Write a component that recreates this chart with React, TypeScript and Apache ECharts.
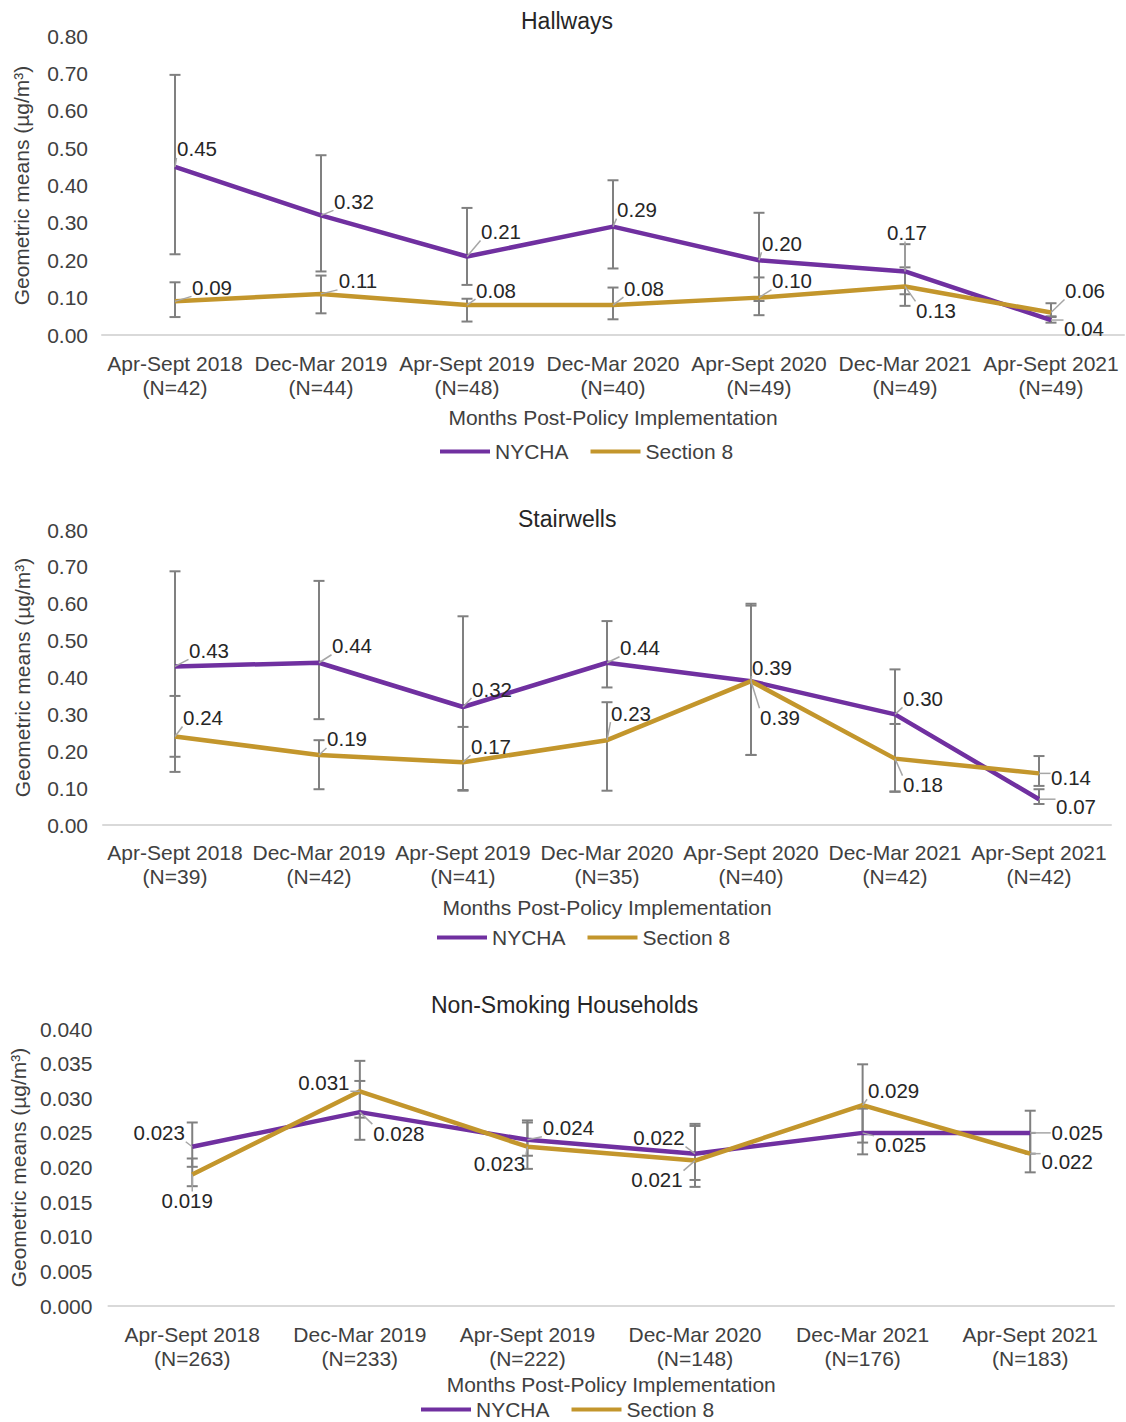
import React, { useEffect, useRef } from 'react';
import * as echarts from 'echarts';

// ---------- Data ----------
const seriesNames = ['NYCHA', 'Section 8'];

const hallCats = ['Apr-Sept 2018\n(N=42)', 'Dec-Mar 2019\n(N=44)', 'Apr-Sept 2019\n(N=48)', 'Dec-Mar 2020\n(N=40)', 'Apr-Sept 2020\n(N=49)', 'Dec-Mar 2021\n(N=49)', 'Apr-Sept 2021\n(N=49)'];
const hallNycha = [0.45, 0.32, 0.21, 0.29, 0.20, 0.17, 0.04];
const hallSec8 = [0.09, 0.11, 0.08, 0.08, 0.10, 0.13, 0.06];
const hallNychaLow = [0.216, 0.17, 0.134, 0.178, 0.091, 0.109, 0.033];
const hallNychaHigh = [0.696, 0.481, 0.34, 0.414, 0.327, 0.243, 0.048];
const hallSec8Low = [0.048, 0.058, 0.036, 0.042, 0.053, 0.078, 0.05];
const hallSec8High = [0.141, 0.159, 0.097, 0.127, 0.154, 0.181, 0.085];

const stairCats = ['Apr-Sept 2018\n(N=39)', 'Dec-Mar 2019\n(N=42)', 'Apr-Sept 2019\n(N=41)', 'Dec-Mar 2020\n(N=35)', 'Apr-Sept 2020\n(N=40)', 'Dec-Mar 2021\n(N=42)', 'Apr-Sept 2021\n(N=42)'];
const stairNycha = [0.43, 0.44, 0.32, 0.44, 0.39, 0.30, 0.07];
const stairSec8 = [0.24, 0.19, 0.17, 0.23, 0.39, 0.18, 0.14];
const stairNychaLow = [0.185, 0.287, 0.093, 0.373, 0.19, 0.09, 0.057];
const stairNychaHigh = [0.688, 0.662, 0.566, 0.553, 0.60, 0.422, 0.097];
const stairSec8Low = [0.144, 0.097, 0.095, 0.093, 0.19, 0.091, 0.106];
const stairSec8High = [0.35, 0.23, 0.266, 0.333, 0.595, 0.274, 0.187];

const nsCats = ['Apr-Sept 2018\n(N=263)', 'Dec-Mar 2019\n(N=233)', 'Apr-Sept 2019\n(N=222)', 'Dec-Mar 2020\n(N=148)', 'Dec-Mar 2021\n(N=176)', 'Apr-Sept 2021\n(N=183)'];
const nsNycha = [0.023, 0.028, 0.024, 0.022, 0.025, 0.025];
const nsSec8 = [0.019, 0.031, 0.023, 0.021, 0.029, 0.022];
const nsNychaLow = [0.0201, 0.024, 0.0217, 0.0182, 0.0219, 0.022];
const nsNychaHigh = [0.0265, 0.0325, 0.0268, 0.0263, 0.0285, 0.0282];
const nsSec8Low = [0.0173, 0.0272, 0.0198, 0.0172, 0.0236, 0.0193];
const nsSec8High = [0.0213, 0.0354, 0.0265, 0.026, 0.0349, 0.025];

// label offsets (label centre relative to the point), in px
const hallNychaOff = [[22, -18], [33, -14], [34, -25], [24, -17], [23, -17], [2, -39], [33, 8]];
const hallSec8Off = [[37, -14], [37, -13], [29, -15], [31, -17], [33, -17], [31, 24], [34, -22]];
const stairNychaOff = [[34, -16], [33, -17], [29, -18], [33, -15], [21, -14], [28, -16], [37, 7]];
const stairSec8Off = [[28, -19], [28, -16], [28, -16], [24, -27], [29, 36], [28, 26], [32, 4]];
const nsNychaOff = [[-33, -14], [39, 21], [41, -12], [-36, -16], [38, 12], [47, 0]];
const nsSec8Off = [[-5, 26], [-36, -9], [-28, 17], [-38, 19], [31, -15], [37, 8]];

// ---------- Styles ----------
const PURPLE = '#7030A0';
const GOLD = '#C3962C';
const FONT = '"Liberation Sans", Arial, sans-serif';
const TXT = '#404040';

const errRender = (params: any, api: any) => {
  const lo = api.coord([api.value(0), api.value(1)]);
  const hi = api.coord([api.value(0), api.value(2)]);
  const c = 5.5;
  const st = { stroke: '#808080', lineWidth: 2 };
  return {
    type: 'group',
    children: [
      { type: 'line', shape: { x1: lo[0], y1: lo[1], x2: hi[0], y2: hi[1] }, style: st },
      { type: 'line', shape: { x1: lo[0] - c, y1: lo[1], x2: lo[0] + c, y2: lo[1] }, style: st },
      { type: 'line', shape: { x1: hi[0] - c, y1: hi[1], x2: hi[0] + c, y2: hi[1] }, style: st },
    ],
  };
};

const labelRender = (offs: number[][], dec: number) => (params: any, api: any) => {
  const i = params.dataIndex;
  const v = api.value(1);
  const p = api.coord([api.value(0), v]);
  const [dx, dy] = offs[i];
  const tx = p[0] + dx;
  const ty = p[1] + dy;
  const w = dec === 2 ? 41 : 53;
  const h = 18;
  const ex = Math.max(tx - w / 2, Math.min(p[0], tx + w / 2));
  const ey = Math.max(ty - h / 2, Math.min(p[1], ty + h / 2));
  const children: any[] = [];
  if (Math.hypot(ex - p[0], ey - p[1]) > 4) {
    children.push({ type: 'line', shape: { x1: p[0], y1: p[1], x2: ex, y2: ey }, style: { stroke: '#A6A6A6', lineWidth: 1.5 } });
  }
  children.push({
    type: 'text',
    style: { text: Number(v).toFixed(dec), x: tx, y: ty, align: 'center', verticalAlign: 'middle', fontSize: 20.5, fill: '#262626', fontFamily: FONT },
  });
  return { type: 'group', children };
};

interface PanelCfg {
  title: string;
  titleLeft: number;
  titleTop: number;
  cats: string[];
  nycha: number[];
  sec8: number[];
  nLow: number[];
  nHigh: number[];
  sLow: number[];
  sHigh: number[];
  nOff: number[][];
  sOff: number[][];
  dec: number;
  max: number;
  interval: number;
  grid: { left: number; top: number; width: number; height: number };
  yLabelMargin: number;
  yNameGap: number;
  xLabelMargin: number;
  xNameGap: number;
  legendLeft: number;
  legendTop: number;
}

function buildPanel(idx: number, c: PanelCfg) {
  const title = {
    text: c.title, left: c.titleLeft, top: c.titleTop, padding: 0,
    textStyle: { fontSize: 23, fontWeight: 'normal', color: '#262626', fontFamily: FONT },
  };
  const grid = { ...c.grid };
  const xAxis = {
    type: 'category', gridIndex: idx, data: c.cats, boundaryGap: true,
    axisLine: { show: true, lineStyle: { color: '#D9D9D9', width: 2 } },
    axisTick: { show: false },
    axisLabel: { fontSize: 21, lineHeight: 24, color: TXT, margin: c.xLabelMargin, interval: 0, fontFamily: FONT },
    name: 'Months Post-Policy Implementation', nameLocation: 'middle', nameGap: c.xNameGap,
    nameTextStyle: { fontSize: 21, color: TXT, fontFamily: FONT },
    splitLine: { show: false },
  };
  const yAxis = {
    type: 'value', gridIndex: idx, min: 0, max: c.max, interval: c.interval,
    axisLine: { show: false }, axisTick: { show: false }, splitLine: { show: false },
    axisLabel: { fontSize: 21, color: TXT, margin: c.yLabelMargin, formatter: (v: number) => v.toFixed(c.dec), fontFamily: FONT },
    name: 'Geometric means (µg/m³)', nameLocation: 'middle', nameGap: c.yNameGap, nameRotate: 90,
    nameTextStyle: { fontSize: 21, color: TXT, fontFamily: FONT },
  };
  const errData = (lo: number[], hi: number[]) => c.cats.map((_, i) => [i, lo[i], hi[i]]);
  const ptData = (vals: number[]) => vals.map((v, i) => [i, v]);
  const series: any[] = [
    { type: 'custom', name: 'errN' + idx, xAxisIndex: idx, yAxisIndex: idx, renderItem: errRender, data: errData(c.nLow, c.nHigh), encode: { x: 0, y: [1, 2] }, z: 1, silent: true },
    { type: 'custom', name: 'errS' + idx, xAxisIndex: idx, yAxisIndex: idx, renderItem: errRender, data: errData(c.sLow, c.sHigh), encode: { x: 0, y: [1, 2] }, z: 1, silent: true },
    { type: 'line', name: seriesNames[0], xAxisIndex: idx, yAxisIndex: idx, data: c.nycha, symbol: 'none', lineStyle: { color: PURPLE, width: 4.5 }, itemStyle: { color: PURPLE }, z: 3, silent: true },
    { type: 'line', name: seriesNames[1], xAxisIndex: idx, yAxisIndex: idx, data: c.sec8, symbol: 'none', lineStyle: { color: GOLD, width: 4.5 }, itemStyle: { color: GOLD }, z: 3, silent: true },
    { type: 'custom', name: 'lblN' + idx, xAxisIndex: idx, yAxisIndex: idx, renderItem: labelRender(c.nOff, c.dec), data: ptData(c.nycha), encode: { x: 0, y: 1 }, z: 5, silent: true },
    { type: 'custom', name: 'lblS' + idx, xAxisIndex: idx, yAxisIndex: idx, renderItem: labelRender(c.sOff, c.dec), data: ptData(c.sec8), encode: { x: 0, y: 1 }, z: 5, silent: true },
  ];
  const legend = {
    data: seriesNames, left: c.legendLeft, top: c.legendTop, icon: 'rect', itemWidth: 50, itemHeight: 4, itemGap: 22,
    textStyle: { fontSize: 21, color: TXT, fontFamily: FONT }, selectedMode: false, padding: 0,
  };
  return { title, grid, xAxis, yAxis, series, legend };
}

const panels: PanelCfg[] = [
  {
    title: 'Hallways', titleLeft: 521, titleTop: 9, cats: hallCats, nycha: hallNycha, sec8: hallSec8,
    nLow: hallNychaLow, nHigh: hallNychaHigh, sLow: hallSec8Low, sHigh: hallSec8High,
    nOff: hallNychaOff, sOff: hallSec8Off, dec: 2, max: 0.8, interval: 0.1,
    grid: { left: 102, top: 36, width: 1022, height: 299 },
    yLabelMargin: 14, yNameGap: 70, xLabelMargin: 16, xNameGap: 72, legendLeft: 440, legendTop: 441,
  },
  {
    title: 'Stairwells', titleLeft: 518, titleTop: 507, cats: stairCats, nycha: stairNycha, sec8: stairSec8,
    nLow: stairNychaLow, nHigh: stairNychaHigh, sLow: stairSec8Low, sHigh: stairSec8High,
    nOff: stairNychaOff, sOff: stairSec8Off, dec: 2, max: 0.8, interval: 0.1,
    grid: { left: 103, top: 530, width: 1008, height: 295 },
    yLabelMargin: 15, yNameGap: 70, xLabelMargin: 15, xNameGap: 72, legendLeft: 437, legendTop: 927,
  },
  {
    title: 'Non-Smoking Households', titleLeft: 431, titleTop: 993, cats: nsCats, nycha: nsNycha, sec8: nsSec8,
    nLow: nsNychaLow, nHigh: nsNychaHigh, sLow: nsSec8Low, sHigh: nsSec8High,
    nOff: nsNychaOff, sOff: nsSec8Off, dec: 3, max: 0.04, interval: 0.005,
    grid: { left: 108, top: 1029, width: 1006, height: 277 },
    yLabelMargin: 16, yNameGap: 77, xLabelMargin: 16, xNameGap: 68, legendLeft: 421, legendTop: 1399,
  },
];

export default function App() {
  const ref = useRef<HTMLDivElement>(null);
  useEffect(() => {
    if (!ref.current) return;
    const chart = echarts.init(ref.current, undefined, { renderer: 'svg' });
    const built = panels.map((p, i) => buildPanel(i, p));
    chart.setOption({
      animation: false,
      backgroundColor: '#ffffff',
      textStyle: { fontFamily: FONT },
      title: built.map((b) => b.title),
      grid: built.map((b) => b.grid),
      xAxis: built.map((b) => b.xAxis),
      yAxis: built.map((b) => b.yAxis),
      legend: built.map((b) => b.legend),
      series: built.flatMap((b) => b.series),
    });
    return () => chart.dispose();
  }, []);
  return <div ref={ref} style={{ position: 'absolute', left: 0, top: 0, width: 1126, height: 1422 }} />;
}
